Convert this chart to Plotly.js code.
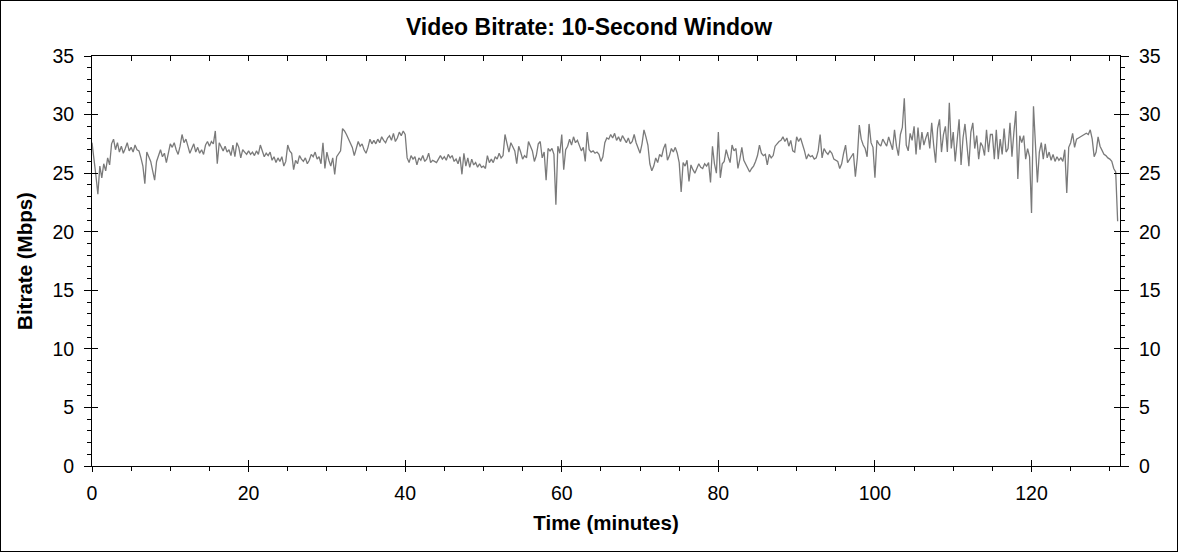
<!DOCTYPE html>
<html>
<head>
<meta charset="utf-8">
<script src="https://cdn.plot.ly/plotly-3.0.1.min.js"></script>
<style>
  html, body { margin: 0; padding: 0; background: #fff; }
  #chart { width: 1176px; height: 550px; border: 1px solid #000; }
</style>
</head>
<body>
<div id="chart"></div>
<script>
// Sampling grid of the series (minutes)
const startMinute = 0;
const stepMinutes = 0.25;

// 10-second window bitrate (Mbps), one value every 0.25 min
const bitrateMbps = [
  // 0-5
  27.6,26.4,24.8,23.2,25.6,24.6,25.8,25.2,26.3,25.7,27.5,27.9,27.0,27.6,26.8,27.3,26.7,27.1,27.6,26.9,
  // 5-10
  27.2,26.8,27.4,27.0,26.9,26.3,25.6,24.1,26.8,26.4,26.0,25.2,24.4,26.0,26.6,27.0,26.4,26.7,25.9,26.6,
  // 10-15
  27.5,27.2,27.6,27.0,26.6,27.3,28.3,27.6,27.9,27.3,26.7,27.1,27.5,26.8,27.2,26.7,27.0,26.6,27.4,27.7,
  // 15-20
  27.3,27.7,27.5,28.6,25.8,27.6,27.2,26.9,27.3,26.8,27.0,26.5,27.4,26.4,27.6,27.2,26.3,27.0,26.8,26.6,
  // 20-25
  26.9,26.6,26.8,26.5,26.9,26.6,27.4,26.8,26.4,26.7,26.5,26.8,26.1,26.4,25.9,26.3,26.0,26.4,25.6,26.0,
  // 25-30
  27.4,26.9,26.7,25.3,26.1,25.8,26.5,26.2,26.0,26.3,25.8,26.1,26.6,26.4,26.8,26.2,26.4,25.8,27.6,25.4,
  // 30-35
  26.8,26.1,25.6,26.3,24.9,26.4,26.7,26.9,28.8,28.6,28.3,27.9,27.5,27.2,26.5,27.1,27.7,27.3,27.5,27.0,
  // 35-40
  26.7,27.2,27.9,27.5,27.8,27.5,27.9,27.6,28.1,27.8,27.6,28.0,28.2,27.8,28.4,27.7,28.0,28.5,28.2,28.6,
  // 40-45
  28.3,26.3,25.9,26.5,26.2,26.4,25.7,26.3,26.1,26.5,26.0,26.2,26.7,25.9,26.1,26.0,25.9,26.2,26.5,26.2,
  // 45-50
  26.4,26.1,26.6,26.3,26.5,26.0,26.2,25.8,26.4,24.9,26.7,25.6,26.3,25.5,26.2,25.7,25.9,25.5,25.8,25.5,
  // 50-55
  25.6,25.4,26.5,25.9,26.2,25.9,26.4,26.2,26.7,26.3,26.5,28.3,27.6,26.8,27.6,27.2,26.9,25.8,27.3,26.8,
  // 55-60
  26.2,26.5,26.3,27.7,27.3,26.9,26.0,26.5,27.5,27.7,26.3,26.8,24.4,27.1,26.9,27.1,26.6,22.3,27.3,26.7,
  // 60-65
  28.3,25.3,27.0,27.3,27.9,27.4,28.1,27.6,27.8,27.3,26.9,27.2,26.0,28.5,27.0,26.8,26.9,26.7,26.8,26.6,
  // 65-70
  26.0,26.4,27.6,28.0,27.9,28.3,28.0,28.4,27.8,28.1,27.7,28.2,27.9,27.6,28.0,27.5,27.7,28.3,27.6,27.2,
  // 70-75
  26.7,27.5,28.7,28.1,27.4,25.8,25.2,25.6,26.3,25.9,26.6,26.4,27.1,27.5,26.1,26.5,27.1,26.8,27.2,26.7,
  // 75-80
  25.9,23.4,25.9,25.6,26.1,24.3,25.7,25.3,25.0,25.4,25.8,25.5,25.4,25.8,25.6,25.9,24.2,27.3,25.8,25.0,
  // 80-85
  28.5,24.6,25.8,26.0,27.0,26.4,25.9,27.4,26.9,27.1,25.4,26.2,27.2,26.1,25.8,25.4,25.1,25.4,25.6,26.0,
  // 85-90
  26.5,27.4,26.7,26.5,26.6,25.7,26.6,26.3,26.5,27.3,27.5,27.7,27.8,28.1,27.7,28.0,27.3,27.8,26.9,26.8,
  // 90-95
  28.1,27.7,28.0,27.5,26.9,26.2,26.6,26.4,26.5,26.2,26.3,26.9,28.3,26.3,27.1,26.8,26.6,26.9,26.7,26.2,
  // 95-100
  26.1,26.0,25.4,25.8,26.7,27.4,25.9,26.2,26.4,26.7,24.7,26.3,29.1,27.9,27.4,27.1,26.4,29.2,27.6,27.2,
  // 100-105
  24.6,27.8,27.5,27.3,27.9,27.6,27.3,28.1,27.6,27.0,28.7,27.3,26.5,28.3,28.9,31.4,27.4,26.9,28.4,27.8,
  // 105-110
  29.0,26.6,28.9,27.0,28.5,27.4,28.0,28.5,27.1,29.3,27.4,25.9,28.8,29.6,26.8,28.3,29.0,26.8,31.0,27.1,
  // 110-115
  28.5,26.0,27.8,29.6,25.7,28.0,29.2,27.3,25.6,28.5,29.3,27.1,28.2,26.2,27.6,27.3,26.5,28.7,26.8,28.3,
  // 115-120
  28.3,26.2,28.7,26.2,27.9,26.6,28.8,26.8,27.1,29.3,26.4,28.5,30.3,24.5,28.2,27.6,28.2,26.2,27.1,26.4,
  // 120-125
  21.6,30.7,27.3,24.2,26.8,27.6,26.2,27.5,26.3,26.8,26.1,26.6,26.0,26.4,26.1,26.3,26.0,27.0,23.3,27.2,
  // 125-130
  27.6,28.4,27.2,27.9,28.0,28.1,28.2,28.3,28.4,28.3,28.7,27.9,26.4,26.8,28.1,27.3,26.9,26.6,26.5,26.3,
  // 130-131
  26.2,26.0,25.4,25.1,20.9
];

const xTickValues = [0, 20, 40, 60, 80, 100, 120];
const yTickValues = [0, 5, 10, 15, 20, 25, 30, 35];

const FONT = '"Liberation Sans", Arial, sans-serif';
const xRange = [0, 131.3];
const yRange = [0, 35];

const traces = [
  {
    type: 'scatter', mode: 'lines',
    x0: startMinute, dx: stepMinutes, y: bitrateMbps,
    line: { color: '#7a7a7a', width: 1.3 },
    hoverinfo: 'skip', showlegend: false
  },
  { type: 'scatter', mode: 'lines', x: [], y: [], xaxis: 'x', yaxis: 'y2', showlegend: false, hoverinfo: 'skip' },
  { type: 'scatter', mode: 'lines', x: [], y: [], xaxis: 'x', yaxis: 'y3', showlegend: false, hoverinfo: 'skip' },
  { type: 'scatter', mode: 'lines', x: [], y: [], xaxis: 'x2', yaxis: 'y', showlegend: false, hoverinfo: 'skip' },
  { type: 'scatter', mode: 'lines', x: [], y: [], xaxis: 'x3', yaxis: 'y', showlegend: false, hoverinfo: 'skip' }
];

const tickFont = { family: FONT, size: 19.5, color: '#000' };

const layout = {
  width: 1176, height: 550,
  paper_bgcolor: '#fff', plot_bgcolor: '#fff',
  margin: { l: 91, r: 57, t: 55, b: 85, pad: 0 },
  font: { family: FONT, color: '#000' },
  showlegend: false,
  title: {
    text: '<b>Video Bitrate: 10-Second Window</b>',
    font: { family: FONT, size: 23, color: '#000' },
    xref: 'container', x: 0.5, xanchor: 'center',
    yref: 'container', y: 1 - 26 / 550, yanchor: 'middle'
  },
  xaxis: {
    range: xRange, tickmode: 'array', tickvals: xTickValues, ticktext: xTickValues.map(String),
    ticks: 'outside', ticklen: 5, tickwidth: 1, tickcolor: '#000', ticklabelstandoff: 5,
    minor: { dtick: 5, tick0: 0, ticks: 'outside', ticklen: 4, tickwidth: 1, tickcolor: '#000', showgrid: false },
    showline: true, linecolor: '#000', linewidth: 1, mirror: true,
    showgrid: false, zeroline: false, tickfont: tickFont,
    title: { text: '<b>Time (minutes)</b>', font: { family: FONT, size: 20.5, color: '#000' }, standoff: 12 },
    automargin: false, fixedrange: true
  },
  xaxis2: {
    overlaying: 'x', anchor: 'y', side: 'bottom', range: xRange,
    tickmode: 'array', tickvals: xTickValues, ticks: 'inside', ticklen: 6, tickwidth: 1, tickcolor: '#000',
    showticklabels: false, showline: false, showgrid: false, zeroline: false, fixedrange: true
  },
  xaxis3: {
    overlaying: 'x', anchor: 'y', side: 'top', range: xRange,
    dtick: 5, tick0: 0, ticks: 'inside', ticklen: 5, tickwidth: 1, tickcolor: '#000',
    showticklabels: false, showline: false, showgrid: false, zeroline: false, fixedrange: true
  },
  yaxis: {
    range: yRange, tickmode: 'array', tickvals: yTickValues, ticktext: yTickValues.map(String),
    ticks: 'outside', ticklen: 7, tickwidth: 1, tickcolor: '#000', ticklabelstandoff: 6,
    minor: { dtick: 1, tick0: 0, ticks: 'outside', ticklen: 4, tickwidth: 1, tickcolor: '#000', showgrid: false },
    showline: true, linecolor: '#000', linewidth: 1, mirror: true,
    showgrid: false, zeroline: false, tickfont: tickFont,
    title: { text: '<b>Bitrate (Mbps)</b>', font: { family: FONT, size: 20.5, color: '#000' }, standoff: 14 },
    automargin: false, fixedrange: true
  },
  yaxis2: {
    overlaying: 'y', anchor: 'x', side: 'right', range: yRange,
    tickmode: 'array', tickvals: yTickValues, ticktext: yTickValues.map(String),
    ticks: 'outside', ticklen: 8, tickwidth: 1, tickcolor: '#000', ticklabelstandoff: 6,
    minor: { dtick: 1, tick0: 0, ticks: 'outside', ticklen: 4, tickwidth: 1, tickcolor: '#000', showgrid: false },
    showline: false, showgrid: false, zeroline: false, tickfont: tickFont, fixedrange: true
  },
  yaxis3: {
    overlaying: 'y', anchor: 'x', side: 'left', range: yRange,
    tickmode: 'array', tickvals: yTickValues, ticks: 'inside', ticklen: 6, tickwidth: 1, tickcolor: '#000',
    mirror: 'ticks', showticklabels: false, showline: false, showgrid: false, zeroline: false, fixedrange: true
  }
};

Plotly.newPlot('chart', traces, layout, { displayModeBar: false, staticPlot: true });
</script>
</body>
</html>
